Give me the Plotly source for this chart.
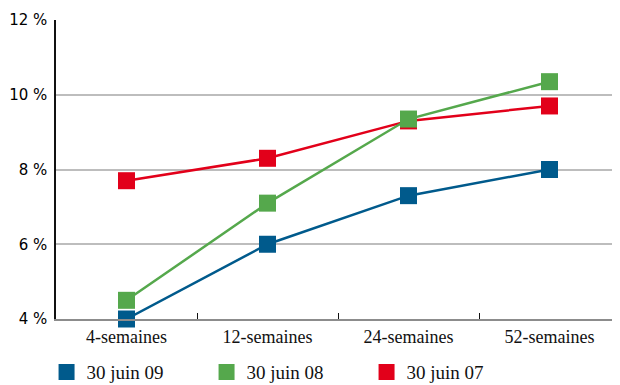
import plotly.graph_objects as go

# Data
periods = ["4-semaines", "12-semaines", "24-semaines", "52-semaines"]
juin_09 = [4.0, 6.0, 7.3, 8.0]
juin_08 = [4.5, 7.1, 9.35, 10.35]
juin_07 = [7.7, 8.3, 9.3, 9.7]

blue = "#005a8c"
green = "#55a84c"
red = "#e2001a"

series = [("30 juin 07", juin_07, red), ("30 juin 08", juin_08, green), ("30 juin 09", juin_09, blue)]

fig = go.Figure()

# draw red first, blue last (blue on top)
for name, vals, col in series:
    fig.add_trace(go.Scatter(x=periods, y=vals, mode="lines+markers", name=name,
                             line=dict(color=col, width=2.5),
                             marker=dict(symbol="square", size=17, color=col),
                             cliponaxis=False, showlegend=False))

# legend-only square markers
for name, vals, col in series[::-1]:
    fig.add_trace(go.Scatter(x=[None], y=[None], mode="markers", name=name,
                             marker=dict(symbol="square", size=17, color=col)))

font = "Liberation Serif"

# page body has an 8px margin, so the figure is a bit smaller than the window
fig.update_layout(
    width=612, height=377,
    margin=dict(l=48, r=0, t=12, b=66),
    paper_bgcolor="white", plot_bgcolor="white",
    font=dict(family=font, size=18, color="#111111"),
    showlegend=True,
    legend=dict(orientation="h", xref="container", x=0.063, xanchor="left",
                yref="container", y=0.034, yanchor="middle",
                font=dict(size=19), itemwidth=30, entrywidth=115, tracegroupgap=0),
)
fig.update_xaxes(type="category", range=[-0.5, 3.5], showline=True, linecolor="#8c8c8c", linewidth=2,
                 ticks="inside", tickson="boundaries", ticklen=6, tickcolor="#111111", tickwidth=1,
                 showgrid=False, zeroline=False, automargin=False, ticklabelstandoff=0)
fig.update_yaxes(range=[4, 12], dtick=2, ticksuffix=" %", showline=True, linecolor="#111111", linewidth=1.5,
                 showgrid=True, gridcolor="#bdbdbd", gridwidth=1.5, zeroline=False, ticks="",
                 automargin=False, ticklabelstandoff=4,
                 tickfont=dict(family="DejaVu Sans", size=15, color="#000000"))

fig.write_html("out.html")
